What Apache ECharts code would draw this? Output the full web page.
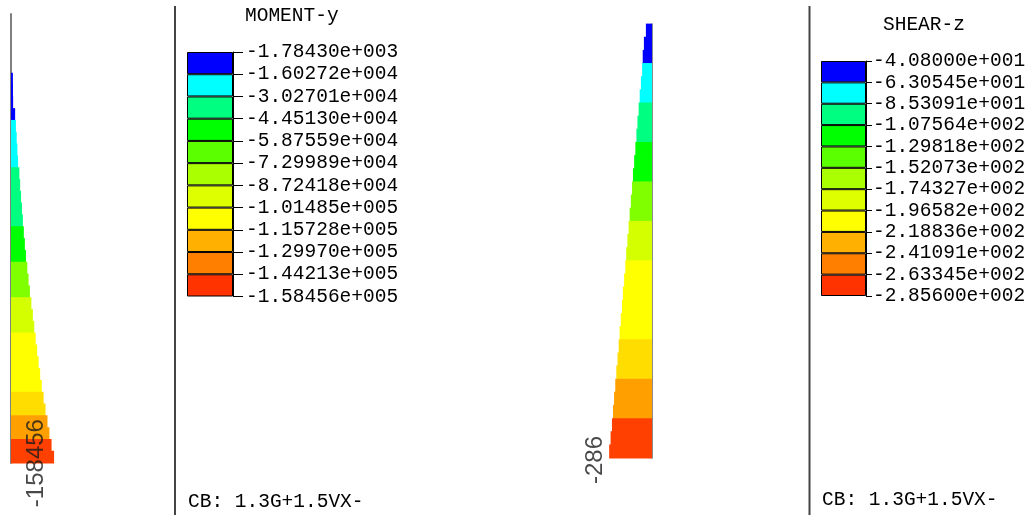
<!DOCTYPE html>
<html>
<head>
<meta charset="utf-8">
<script src="https://cdn.jsdelivr.net/npm/echarts@6/dist/echarts.min.js"></script>
<style>
html, body { margin: 0; padding: 0; background: #fff; }
#main { width: 1030px; height: 515px; }
</style>
</head>
<body>
<div id="main"></div>
<script>
// legend boundaries
var momentTicks = ['-1.78430e+003', '-1.60272e+004', '-3.02701e+004', '-4.45130e+004',
    '-5.87559e+004', '-7.29989e+004', '-8.72418e+004', '-1.01485e+005',
    '-1.15728e+005', '-1.29970e+005', '-1.44213e+005', '-1.58456e+005'];
var shearTicks = ['-4.08000e+001', '-6.30545e+001', '-8.53091e+001', '-1.07564e+002',
    '-1.29818e+002', '-1.52073e+002', '-1.74327e+002', '-1.96582e+002',
    '-2.18836e+002', '-2.41091e+002', '-2.63345e+002', '-2.85600e+002'];

var legendColors = ['#0000ff', '#00ffff', '#00ff80', '#00ff00', '#5cff00', '#aaff00',
    '#ddff00', '#ffff00', '#ffb000', '#ff8000', '#ff3300'];
var diagramColors = ['#0000ff', '#00ffff', '#00ff80', '#00ff00', '#80ff00', '#d4ff00',
    '#ffff00', '#ffff00', '#ffdd00', '#ffa000', '#ff4000'];

// moment along the member, top to bottom (38 pieces)
var momentSegs = [0, 0, 0, 0, 0, -7000, -7300, -7800, -15200, -18200, -21000, -23500,
    -26000, -30800, -33600, -37000, -40500, -43800, -47200, -51000, -55000, -60000,
    -64600, -69600, -75000, -80400, -85600, -90800, -96200, -101600, -107200, -113200,
    -120000, -127000, -134200, -141400, -149200, -158456];
// shear along the member, top to bottom (33 pieces)
var shearSegs = [-40.8, -54, -62, -66, -74, -82, -89, -97, -104, -111, -119, -127,
    -133, -141, -149, -156, -164, -172, -178, -186, -194, -200, -208, -216,
    -222, -230, -238, -245, -253, -260, -267, -276, -285.6];

var footer = 'CB: 1.3G+1.5VX-';
var mono = "'Liberation Mono', 'DejaVu Sans Mono', monospace";

function bandColor(v, ticks) {
    for (var i = 1; i < ticks.length - 1; i++) {
        if (v > parseFloat(ticks[i])) return diagramColors[i - 1];
    }
    return diagramColors[diagramColors.length - 1];
}

// one rect per piece, slightly overlapped so no seams show
function segRenderer(ticks) {
    return function (params, api) {
        var v = api.value(0), i = api.value(1);
        var p0 = api.coord([0, i]);
        var p1 = api.coord([v, i]);
        var h = api.size([0, 1])[1];
        return {
            type: 'rect',
            shape: {
                x: Math.min(p0[0], p1[0]), y: p0[1] - h / 2 - 0.4,
                width: Math.abs(p1[0] - p0[0]), height: h + 0.8
            },
            style: { fill: bandColor(v, ticks) }
        };
    };
}

function legendSeries(idx, name) {
    return legendColors.map(function (c) {
        return {
            type: 'bar', xAxisIndex: idx, yAxisIndex: idx, stack: name,
            data: [1], barWidth: '100%', silent: true,
            itemStyle: { color: c, borderColor: '#000', borderWidth: 1 }
        };
    });
}

function legendAxis(idx, ticks, tickLen, margin) {
    return {
        gridIndex: idx, type: 'value', min: 0, max: 11, interval: 1, inverse: true,
        position: 'right',
        axisLine: { show: true, lineStyle: { color: '#000', width: 1 } },
        axisTick: { show: true, length: tickLen, lineStyle: { color: '#000', width: 1 } },
        axisLabel: {
            margin: margin, color: '#000', fontFamily: mono, fontSize: 19.5,
            formatter: function (v) { return ticks[v]; }
        },
        splitLine: { show: false }
    };
}

function endLabel(gridIdx, segs, pos) {
    return {
        type: 'scatter', xAxisIndex: gridIdx, yAxisIndex: gridIdx, symbolSize: 2, z: 5, silent: true,
        data: [[segs[segs.length - 1], segs.length - 1]],
        itemStyle: { color: 'rgba(0,0,0,0)' },
        label: {
            show: true, position: pos, rotate: 90, align: 'center', verticalAlign: 'middle',
            fontFamily: 'Liberation Sans', fontSize: 24, color: '#1a1a1a',
            formatter: function (p) { return String(Math.round(p.value[0])); }
        }
    };
}

var myChart = echarts.init(document.getElementById('main'));

var option = {
    animation: false,
    backgroundColor: '#fff',
    grid: [
        { left: 11, top: 14, width: 87, height: 449, outerBoundsMode: 'none' },
        { left: 562, top: 24, width: 90, height: 434, outerBoundsMode: 'none' },
        { left: 187, top: 52, width: 46, height: 244.5, outerBoundsMode: 'none' },
        { left: 821, top: 61, width: 45, height: 235, outerBoundsMode: 'none' }
    ],
    xAxis: [
        { gridIndex: 0, type: 'value', min: -320000, max: 0, inverse: true, show: false },
        { gridIndex: 1, type: 'value', min: -600, max: 0, show: false },
        { gridIndex: 2, type: 'category', data: [''], show: false },
        { gridIndex: 3, type: 'category', data: [''], show: false }
    ],
    yAxis: [
        {
            gridIndex: 0, type: 'category', inverse: true,
            data: momentSegs.map(function (v, i) { return i; }),
            axisLine: { show: true, lineStyle: { color: '#808080', width: 2 } },
            axisTick: { show: false }, axisLabel: { show: false }, splitLine: { show: false }
        },
        {
            gridIndex: 1, type: 'category', inverse: true,
            data: shearSegs.map(function (v, i) { return i; }),
            axisLine: { show: true, lineStyle: { color: '#666', width: 1.5 } },
            axisTick: { show: false }, axisLabel: { show: false }, splitLine: { show: false }
        },
        legendAxis(2, momentTicks, 10, 13),
        legendAxis(3, shearTicks, 6, 7)
    ],
    series: [
        {
            type: 'custom', xAxisIndex: 0, yAxisIndex: 0, silent: true,
            renderItem: segRenderer(momentTicks), encode: { x: 0, y: 1 },
            data: momentSegs.map(function (v, i) { return [v, i]; })
        },
        {
            type: 'custom', xAxisIndex: 1, yAxisIndex: 1, silent: true,
            renderItem: segRenderer(shearTicks), encode: { x: 0, y: 1 },
            data: shearSegs.map(function (v, i) { return [v, i]; })
        },
        endLabel(0, momentSegs, [-17, 7]),
        endLabel(1, shearSegs, [-13, 9.6])
    ].concat(legendSeries(2, 'm'), legendSeries(3, 's')),
    graphic: [
        { type: 'line', shape: { x1: 175, y1: 6, x2: 175, y2: 515 }, style: { stroke: '#444', lineWidth: 2 } },
        { type: 'line', shape: { x1: 809.5, y1: 6, x2: 809.5, y2: 515 }, style: { stroke: '#444', lineWidth: 2 } },
        { type: 'text', x: 245, y: 16, style: { text: 'MOMENT-y', font: '19.5px ' + mono, fill: '#000', verticalAlign: 'middle' } },
        { type: 'text', x: 883, y: 25, style: { text: 'SHEAR-z', font: '19.5px ' + mono, fill: '#000', verticalAlign: 'middle' } },
        { type: 'text', x: 188, y: 501.5, style: { text: footer, font: '19.5px ' + mono, fill: '#000', verticalAlign: 'middle' } },
        { type: 'text', x: 822, y: 500, style: { text: footer, font: '19.5px ' + mono, fill: '#000', verticalAlign: 'middle' } }
    ]
};

myChart.setOption(option);
</script>
</body>
</html>
